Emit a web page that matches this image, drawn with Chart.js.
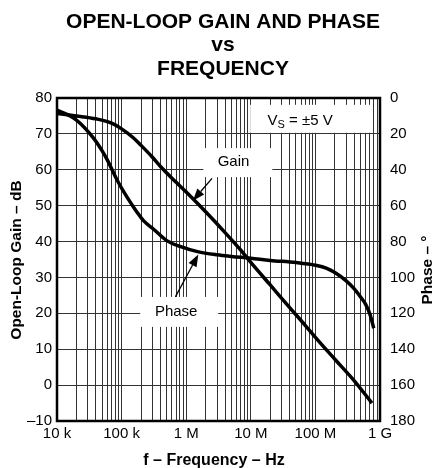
<!DOCTYPE html>
<html>
<head>
<meta charset="utf-8">
<script src="https://cdn.jsdelivr.net/npm/chart.js@4.4.0/dist/chart.umd.min.js"></script>
<style>
  html, body { margin: 0; padding: 0; background: #fff; }
</style>
</head>
<body>
<canvas id="olChart" width="435" height="468"></canvas>
<script>
// Open-loop gain (dB), frequency in Hz
const gainFreq = [1e4, 2e4, 4e4, 7e4, 1e5, 1.5e5, 2e5, 3e5, 4e5, 7e5, 1e6, 2e6, 4e6, 7e6, 1e7, 2e7, 4e7, 7e7, 1e8, 2e8, 4e8, 7.5e8];
const gainDb = [75.7, 75.0, 74.2, 73.0, 71.4, 69.0, 66.8, 63.5, 60.9, 56.5, 53.8, 48.3, 42.5, 37.6, 34.2, 27.9, 21.6, 16.6, 13.3, 7.2, 1.2, -5.0];

// Phase (degrees, plotted on the reversed right axis)
const phaseFreq = [1e4, 2e4, 3.7e4, 5e4, 6e4, 8.5e4, 1.2e5, 1.7e5, 2.2e5, 3.1e5, 5e5, 8e5, 1.5e6, 3e6, 5e6, 1e7, 2e7, 5e7, 1e8, 1.5e8, 2e8, 3e8, 4e8, 5e8, 6e8, 7e8, 8e8];
const phaseDeg = [6.7, 12.3, 22.5, 29.5, 34.5, 45.7, 55, 63.2, 68.5, 73, 79.5, 82.7, 85.6, 87.4, 88.3, 89.3, 90.5, 91.7, 93.2, 94.9, 97.3, 101.9, 106.4, 110.9, 115, 120.6, 128.3];

// x axis decades and their labels
const decadeValues = [1e4, 1e5, 1e6, 1e7, 1e8, 1e9];
const decadeLabels = ['10 k', '100 k', '1 M', '10 M', '100 M', '1 G'];

// grid lines at 1..9 x each decade
const gridFreqs = [];
decadeValues.slice(0, -1).forEach(d => {
  for (let m = 1; m < 10; m++) gridFreqs.push(d * m);
});
gridFreqs.push(1e9);

const FONT = "'Liberation Sans', Arial, Helvetica, sans-serif";
Chart.defaults.font.family = FONT;
Chart.defaults.color = '#000';

// label boxes, arrows (in frequency / dB)
const labelBoxes = [
  { text: 'Gain', f: 6.3e6, db: 62.0, w: 69, h: 29, tf: 5.4e6, tdb: 62.2 },
  { text: 'Phase', f: 7.8e5, db: 20.4, w: 78, h: 30, tf: 7.0e5, tdb: 20.5 }
];
const arrows = [
  { from: [2.51e6, 57.6], to: [1.27e6, 51.4] },
  { from: [6.8e5, 24.6], to: [1.54e6, 36.4] }
];
const vsBox = { f: 8.3e7, db: 74.2, w: 120, h: 28, tf: 5.8e7, tdb: 74.0 };

function drawArrow(ctx, x1, y1, x2, y2) {
  const ang = Math.atan2(y2 - y1, x2 - x1);
  const len = 12, hw = 4.5;
  const bx = x2 - len * Math.cos(ang), by = y2 - len * Math.sin(ang);
  ctx.beginPath();
  ctx.moveTo(x1, y1);
  ctx.lineTo(bx, by);
  ctx.lineWidth = 1.3;
  ctx.strokeStyle = '#000';
  ctx.stroke();
  ctx.beginPath();
  ctx.moveTo(x2, y2);
  ctx.lineTo(bx - hw * Math.sin(ang), by + hw * Math.cos(ang));
  ctx.lineTo(bx + hw * Math.sin(ang), by - hw * Math.cos(ang));
  ctx.closePath();
  ctx.fillStyle = '#000';
  ctx.fill();
}

const decorPlugin = {
  id: 'decor',
  beforeDatasetsDraw(chart) {
    const { ctx, scales: { x, y } } = chart;
    ctx.save();
    ctx.fillStyle = '#fff';
    labelBoxes.concat([vsBox]).forEach(b => {
      const cx = x.getPixelForValue(b.f), cy = y.getPixelForValue(b.db);
      ctx.fillRect(cx - b.w / 2, cy - b.h / 2, b.w, b.h);
    });
    ctx.restore();
  },
  afterDatasetsDraw(chart) {
    const { ctx, chartArea: a, scales: { x, y } } = chart;
    ctx.save();
    // frame
    ctx.strokeStyle = '#000';
    ctx.lineWidth = 2.5;
    ctx.strokeRect(a.left, a.top, a.right - a.left, a.bottom - a.top);

    // labels
    ctx.fillStyle = '#000';
    ctx.font = '15px ' + FONT;
    ctx.textAlign = 'center';
    ctx.textBaseline = 'middle';
    labelBoxes.forEach(b => {
      ctx.fillText(b.text, x.getPixelForValue(b.tf), y.getPixelForValue(b.tdb));
    });
    arrows.forEach(ar => {
      drawArrow(ctx, x.getPixelForValue(ar.from[0]), y.getPixelForValue(ar.from[1]),
        x.getPixelForValue(ar.to[0]), y.getPixelForValue(ar.to[1]));
    });

    // V_S = ±5 V
    const tx = x.getPixelForValue(vsBox.tf), ty = y.getPixelForValue(vsBox.tdb);
    ctx.font = '15px ' + FONT;
    const wV = ctx.measureText('V').width;
    const wRest = ctx.measureText(' = ±5 V').width;
    ctx.font = '11px ' + FONT;
    const wS = ctx.measureText('S').width;
    let sx = tx - (wV + wS + wRest) / 2;
    ctx.textAlign = 'left';
    ctx.textBaseline = 'alphabetic';
    ctx.font = '15px ' + FONT;
    ctx.fillText('V', sx, ty + 5.4);
    ctx.font = '11px ' + FONT;
    ctx.fillText('S', sx + wV, ty + 8.6);
    ctx.font = '15px ' + FONT;
    ctx.fillText(' = ±5 V', sx + wV + wS, ty + 5.4);
    ctx.restore();
  },
  afterDraw(chart) {
    const { ctx } = chart;
    ctx.save();
    ctx.fillStyle = '#000';
    ctx.textAlign = 'center';
    ctx.textBaseline = 'alphabetic';
    ctx.font = 'bold 21px ' + FONT;
    ctx.fillText('OPEN-LOOP GAIN AND PHASE', 223, 27.5);
    ctx.fillText('vs', 223, 51);
    ctx.fillText('FREQUENCY', 223, 75);

    ctx.font = 'bold 16px ' + FONT;
    ctx.fillText('f – Frequency – Hz', 214, 465);

    ctx.font = 'bold 15.5px ' + FONT;
    ctx.textBaseline = 'middle';
    ctx.save();
    ctx.translate(17, 260);
    ctx.rotate(-Math.PI / 2);
    ctx.fillText('Open-Loop Gain – dB', 0, 0);
    ctx.restore();
    ctx.save();
    ctx.translate(428, 270);
    ctx.rotate(-Math.PI / 2);
    ctx.fillText('Phase – °', 0, 0);
    ctx.restore();
    ctx.restore();
  }
};

const ctx = document.getElementById('olChart').getContext('2d');
const olChart = new Chart(ctx, {
  type: 'line',
  data: {
    datasets: [{
      label: 'Gain',
      data: gainFreq.map((f, i) => ({ x: f, y: gainDb[i] })),
      yAxisID: 'y',
      borderColor: '#000',
      borderWidth: 3.5,
      pointRadius: 0,
      cubicInterpolationMode: 'monotone',
      fill: false
    }, {
      label: 'Phase',
      data: phaseFreq.map((f, i) => ({ x: f, y: phaseDeg[i] })),
      yAxisID: 'y2',
      borderColor: '#000',
      borderWidth: 3.5,
      pointRadius: 0,
      cubicInterpolationMode: 'monotone',
      fill: false
    }]
  },
  options: {
    responsive: false,
    animation: false,
    layout: { padding: { top: 98, left: 0, right: 0, bottom: 0 } },
    plugins: {
      legend: { display: false },
      tooltip: { enabled: false },
      title: { display: false }
    },
    scales: {
      x: {
        type: 'logarithmic',
        min: 1e4,
        max: 1e9,
        afterBuildTicks: scale => {
          scale.ticks = gridFreqs.map(v => ({ value: v, major: decadeValues.includes(v) }));
        },
        afterFit: scale => { scale.height = 47; },
        ticks: {
          autoSkip: false,
          maxRotation: 0,
          padding: 4,
          font: { size: 15 },
          callback: value => {
            const i = decadeValues.indexOf(value);
            return i >= 0 ? decadeLabels[i] : '';
          }
        },
        grid: { color: '#333', lineWidth: 1, drawTicks: false },
        border: { display: false }
      },
      y: {
        type: 'linear',
        position: 'left',
        min: -10,
        max: 80,
        afterFit: scale => { scale.width = 57; },
        ticks: {
          stepSize: 10,
          padding: 5,
          font: { size: 15 },
          callback: v => (v < 0 ? '–' + Math.abs(v) : String(v))
        },
        grid: { color: '#333', lineWidth: 1, drawTicks: false },
        border: { display: false }
      },
      y2: {
        type: 'linear',
        position: 'right',
        min: 0,
        max: 180,
        reverse: true,
        afterFit: scale => { scale.width = 55; },
        ticks: { stepSize: 20, padding: 10, font: { size: 15 } },
        grid: { drawOnChartArea: false, drawTicks: false },
        border: { display: false }
      }
    }
  },
  plugins: [decorPlugin]
});
</script>
</body>
</html>
